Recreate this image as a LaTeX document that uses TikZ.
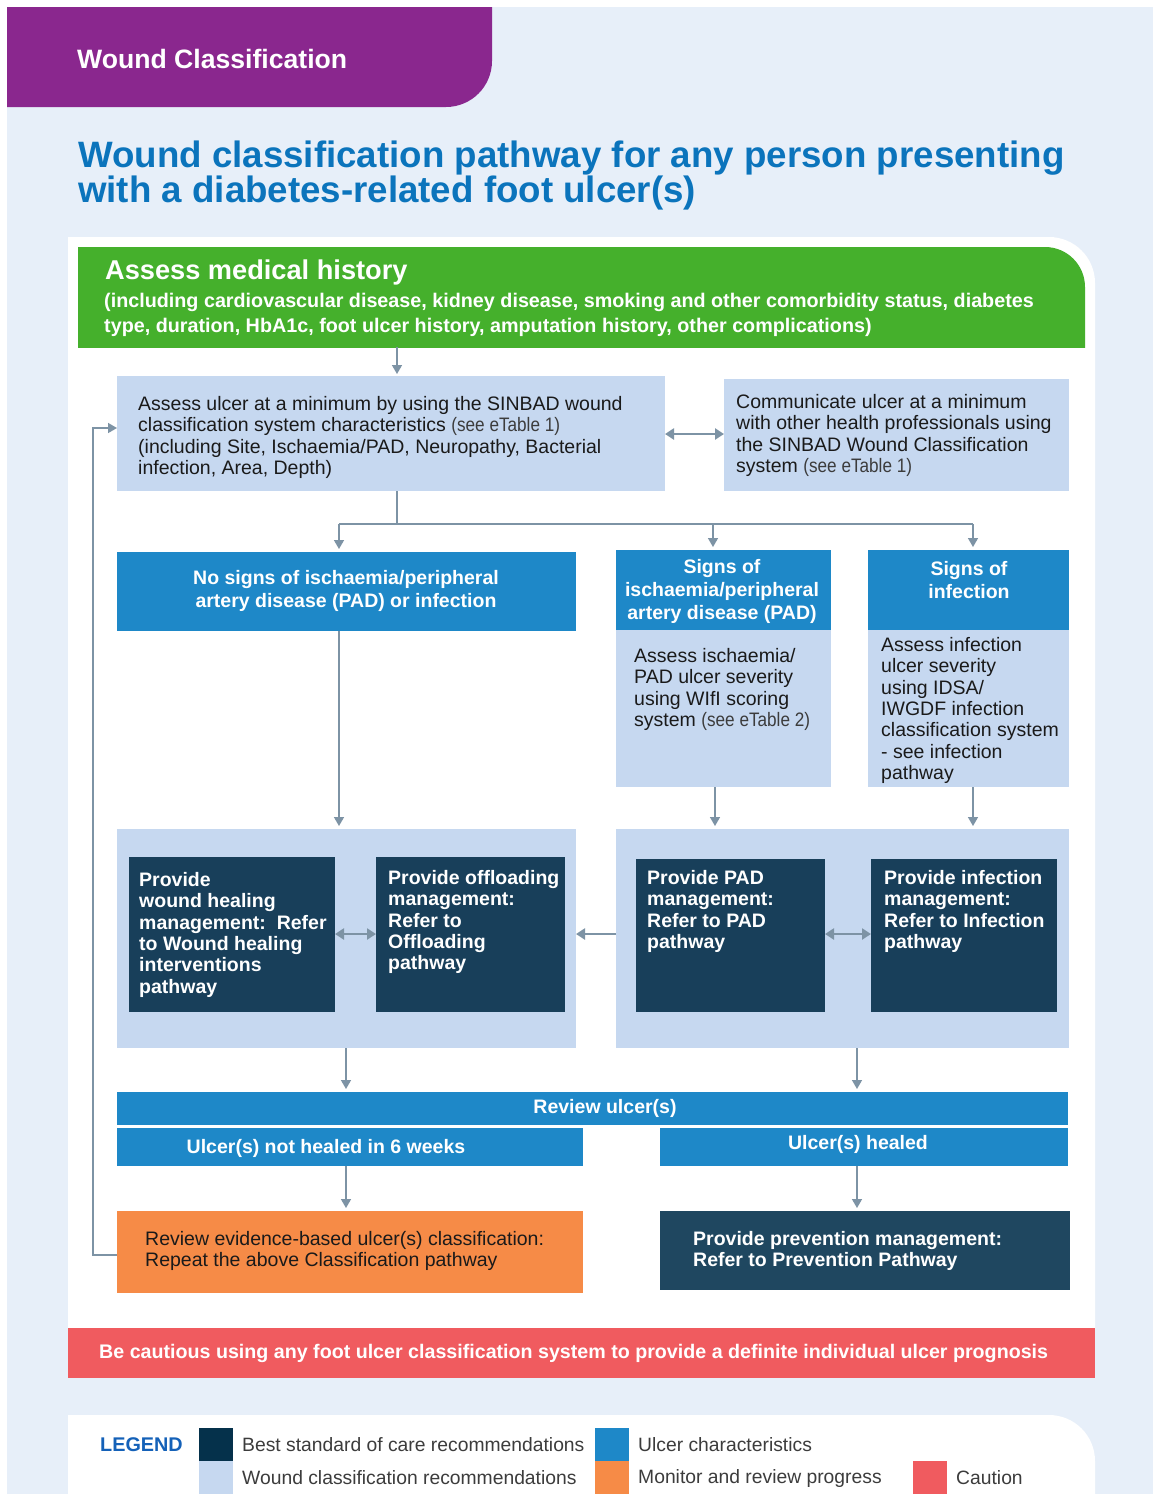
\documentclass[tikz,border=0pt]{standalone}
\usepackage{fontspec}
\setmainfont{Liberation Sans}
\newfontfamily\narrowfont{Liberation Sans}[FakeStretch=0.88]
\usetikzlibrary{arrows.meta}
\definecolor{bgblue}{HTML}{E7EFF9}
\definecolor{tabpurple}{HTML}{8A278E}
\definecolor{titleblue}{HTML}{0B74BC}
\definecolor{greenbox}{HTML}{45B02C}
\definecolor{lblue}{HTML}{C6D8F0}
\definecolor{mblue}{HTML}{1E88C8}
\definecolor{dbox}{HTML}{183F5A}
\definecolor{dprev}{HTML}{1F4760}
\definecolor{orangebox}{HTML}{F68B47}
\definecolor{redbar}{HTML}{F05B5F}
\definecolor{arrcol}{HTML}{7D93A5}
\definecolor{legdark}{HTML}{05314B}
\definecolor{legblue}{HTML}{1461B8}
\definecolor{bodytext}{HTML}{1A1A1A}
\newcommand\setfs[2]{\fontsize{#1}{#2}\selectfont}
\newcommand\lite[1]{{\narrowfont\color{bodytext!85}#1}}
\begin{document}
\begin{tikzpicture}[x=1pt,y=-1pt,
  rect/.style={draw=none, inner sep=0pt, outer sep=0pt, anchor=north west},
  txt/.style={inner sep=0pt, anchor=north west, align=left, text=bodytext, font=\setfs{19.5}{21.4}},
  btxt/.style={inner sep=0pt, anchor=north west, align=left, text=white, font=\bfseries\setfs{19.5}{21.4}},
  ctxt/.style={inner sep=0pt, align=center, text=white, font=\bfseries\setfs{19.5}{23}},
  arr/.style={draw=arrcol, line width=1.5pt, -{Triangle[width=10pt,length=9pt]}},
  ln/.style={draw=arrcol, line width=1.5pt},
  darr/.style={draw=arrcol, line width=2.6pt, {Triangle[width=11pt,length=9pt]}-{Triangle[width=11pt,length=9pt]}},
  larr/.style={draw=arrcol, line width=2.6pt, -{Triangle[width=11pt,length=9pt]}},
  leg/.style={inner sep=0pt, anchor=west, text=bodytext!85, font=\setfs{19.3}{22}}
]
\useasboundingbox (0,0) rectangle (1153,1494);
% backgrounds
\fill[white] (0,0) rectangle (1153,1494);
\fill[bgblue] (7,7) rectangle (1153,1494);
\begin{scope}
  \clip (7,7) rectangle (600,107);
  \fill[tabpurple, rounded corners=46pt] (-200,-200) rectangle (492,107);
\end{scope}
\begin{scope}
  \clip (68,237) rectangle (1095,1328);
  \fill[white, rounded corners=46pt] (-200,237) rectangle (1095,1700);
\end{scope}
\begin{scope}
  \clip (78,247) rectangle (1085,347);
  \fill[greenbox, rounded corners=40pt] (-200,247) rectangle (1085,600);
\end{scope}
\begin{scope}
  \clip (68,1415) rectangle (1095,1494);
  \fill[white, rounded corners=46pt] (-200,1415) rectangle (1095,1800);
\end{scope}

% header texts
\node[inner sep=0pt, anchor=north west, text=white, font=\bfseries\setfs{26.6}{30}] (tabt) at (77,49.5) {Wound Classification};
\node[inner sep=0pt, anchor=north west, align=left, text=titleblue, font=\bfseries\setfs{36.7}{35}] (title) at (78,141)
  {Wound classification pathway for any person presenting\\with a diabetes-related foot ulcer(s)};

% green box
\node[rect, minimum width=1007pt, minimum height=100pt] (green) at (78,247) {};
\node[inner sep=0pt, anchor=north west, text=white, font=\bfseries\setfs{27.2}{30}] (gt) at (105,260) {Assess medical history};
\node[btxt, font=\bfseries\setfs{19.75}{25}] (gs) at (104,293)
  {(including cardiovascular disease, kidney disease, smoking and other comorbidity status, diabetes\\type, duration, HbA1c, foot ulcer history, amputation history, other complications)};

% SINBAD and communicate
\node[rect, fill=lblue, minimum width=548pt, minimum height=115pt] (sinbad) at (117,376) {};
\node[txt] (sinbadt) at (138,396) {Assess ulcer at a minimum by using the SINBAD wound\\classification system characteristics \lite{(see eTable 1)}\\(including Site, Ischaemia/PAD, Neuropathy, Bacterial\\infection, Area, Depth)};
\node[rect, fill=lblue, minimum width=345pt, minimum height=112pt] (comm) at (724,379) {};
\node[txt] (commt) at (736,394) {Communicate ulcer at a minimum\\with other health professionals using\\the SINBAD Wound Classification\\system \lite{(see eTable 1)}};

% ulcer characteristic headers
\node[rect, fill=mblue, minimum width=459pt, minimum height=79pt] (nosign) at (117,552) {};
\node[ctxt] (nosignt) at (346,591) {No signs of ischaemia/peripheral\\artery disease (PAD) or infection};
\node[rect, fill=mblue, minimum width=215pt, minimum height=80pt] (padh) at (616,550) {};
\node[ctxt] (padht) at (722,591) {Signs of\\ischaemia/peripheral\\artery disease (PAD)};
\node[rect, fill=lblue, minimum width=215pt, minimum height=157pt] (padb) at (616,630) {};
\node[txt] (padbt) at (634,648) {Assess ischaemia/\\PAD ulcer severity\\using WIfI scoring\\system \lite{(see eTable 2)}};
\node[rect, fill=mblue, minimum width=201pt, minimum height=80pt] (infh) at (868,550) {};
\node[ctxt] (infht) at (969,580) {Signs of\\infection};
\node[rect, fill=lblue, minimum width=201pt, minimum height=157pt] (infb) at (868,630) {};
\node[txt] (infbt) at (881,637) {Assess infection\\ulcer severity\\using IDSA/\\IWGDF infection\\classification system\\- see infection\\pathway};

% management groups
\node[rect, fill=lblue, minimum width=459pt, minimum height=219pt] (lg) at (117,829) {};
\node[rect, fill=dbox, minimum width=206pt, minimum height=155pt] (d1) at (129,857) {};
\node[btxt] (d1t) at (139,872) {Provide\\wound healing\\management:\ \ Refer\\to Wound healing\\interventions\\pathway};
\node[rect, fill=dbox, minimum width=189pt, minimum height=155pt] (d2) at (376,857) {};
\node[btxt] (d2t) at (388,870) {Provide offloading\\management:\\Refer to\\Offloading\\pathway};
\node[rect, fill=lblue, minimum width=453pt, minimum height=219pt] (rg) at (616,829) {};
\node[rect, fill=dbox, minimum width=189pt, minimum height=153pt] (d3) at (636,859) {};
\node[btxt] (d3t) at (647,870) {Provide PAD\\management:\\Refer to PAD\\pathway};
\node[rect, fill=dbox, minimum width=186pt, minimum height=153pt] (d4) at (871,859) {};
\node[btxt] (d4t) at (884,870) {Provide infection\\management:\\Refer to Infection\\pathway};

% review
\node[rect, fill=mblue, minimum width=951pt, minimum height=33pt] (review) at (117,1092) {};
\node[ctxt] (reviewt) at (605,1108) {Review ulcer(s)};
\node[rect, fill=mblue, minimum width=466pt, minimum height=38pt] (nh) at (117,1128) {};
\node[ctxt] (nht) at (326,1148) {Ulcer(s) not healed in 6 weeks};
\node[rect, fill=mblue, minimum width=408pt, minimum height=38pt] (hl) at (660,1128) {};
\node[ctxt] (hlt) at (858,1144) {Ulcer(s) healed};
\node[rect, fill=orangebox, minimum width=466pt, minimum height=82pt] (orange) at (117,1211) {};
\node[txt] (oranget) at (145,1231) {Review evidence-based ulcer(s) classification:\\Repeat the above Classification pathway};
\node[rect, fill=dprev, minimum width=410pt, minimum height=79pt] (prev) at (660,1211) {};
\node[btxt] (prevt) at (693,1231) {Provide prevention management:\\Refer to Prevention Pathway};

% caution bar
\node[rect, fill=redbar, minimum width=1027pt, minimum height=50pt] (red) at (68,1328) {};
\node[inner sep=0pt, anchor=west, text=white, font=\bfseries\setfs{19.65}{22}] (redt) at (99,1353) {Be cautious using any foot ulcer classification system to provide a definite individual ulcer prognosis};

% legend
\node[inner sep=0pt, anchor=west, text=legblue, font=\bfseries\setfs{19.8}{22}] (legt) at (100,1445) {LEGEND};
\node[rect, fill=legdark, minimum width=34pt, minimum height=33pt] (s1) at (199,1428) {};
\node[rect, fill=lblue, minimum width=34pt, minimum height=33pt] (s2) at (199,1461) {};
\node[rect, fill=mblue, minimum width=34pt, minimum height=33pt] (s3) at (595,1428) {};
\node[rect, fill=orangebox, minimum width=34pt, minimum height=33pt] (s4) at (595,1461) {};
\node[rect, fill=redbar, minimum width=34pt, minimum height=33pt] (s5) at (913,1461) {};
\node[leg] (l1) at (242,1445) {Best standard of care recommendations};
\node[leg] (l2) at (242,1478) {Wound classification recommendations};
\node[leg] (l3) at (638,1445) {Ulcer characteristics};
\node[leg] (l4) at (638,1478) {Monitor and review progress};
\node[leg] (l5) at (956,1478) {Caution};

% connectors
\coordinate (c1) at (397,0);
\coordinate (jc) at (397,524);
\coordinate (jl) at (339,524);
\coordinate (jm) at (713,524);
\coordinate (jr) at (973,524);
\draw[arr, shorten >=2pt] (green.south -| c1) -- (sinbad.north -| c1);
\draw[darr] (sinbad.east |- 0,434) -- (comm.west |- 0,434);
\draw[ln] (sinbad.south -| jc) -- (jc);
\draw[ln] (jl) -- (jr);
\draw[arr, shorten >=3pt] (jl) -- (nosign.north -| jl);
\draw[arr, shorten >=3pt] (jm) -- (padh.north -| jm);
\draw[arr, shorten >=3pt] (jr) -- (infh.north -| jr);
\coordinate (x1) at (339,0);
\coordinate (x2) at (715,0);
\coordinate (x3) at (973,0);
\draw[arr, shorten >=3pt] (nosign.south -| x1) -- (lg.north -| x1);
\draw[arr, shorten >=3pt] (padb.south -| x2) -- (rg.north -| x2);
\draw[arr, shorten >=3pt] (infb.south -| x3) -- (rg.north -| x3);
\draw[darr] (d1.east |- 0,934) -- (d2.west |- 0,934);
\draw[darr] (d3.east |- 0,934) -- (d4.west |- 0,934);
\draw[larr] (rg.west |- 0,934) -- (lg.east |- 0,934);
\coordinate (x4) at (346,0);
\coordinate (x5) at (857,0);
\draw[arr, shorten >=3pt] (lg.south -| x4) -- (review.north -| x4);
\draw[arr, shorten >=3pt] (rg.south -| x5) -- (review.north -| x5);
\draw[arr, shorten >=3pt] (nh.south -| x4) -- (orange.north -| x4);
\draw[arr, shorten >=3pt] (hl.south -| x5) -- (prev.north -| x5);
\coordinate (lp1) at (93,1255);
\coordinate (lp2) at (93,428);
\draw[arr] (orange.west |- lp1) -- (lp1) -- (lp2) -- (sinbad.west |- lp2);
\end{tikzpicture}
\end{document}
